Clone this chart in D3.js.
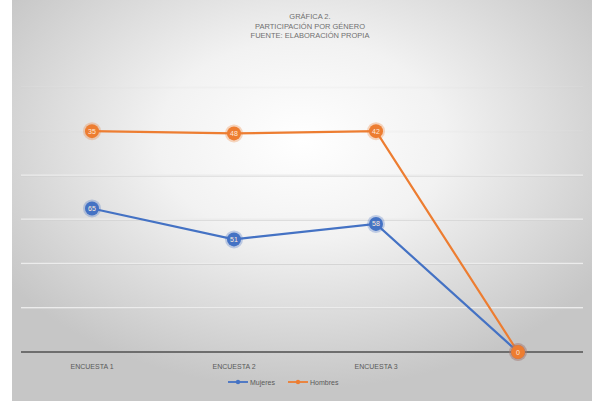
<!DOCTYPE html>
<html><head><meta charset="utf-8">
<script src="https://cdn.jsdelivr.net/npm/d3@7"></script>
<style>body{margin:0;background:#fff}svg{display:block}</style>
</head><body>
<script>
const categories = ["ENCUESTA 1", "ENCUESTA 2", "ENCUESTA 3", ""];
const mujeres = [65, 51, 58, 0];
const hombres = [35, 48, 42, 0];
const yTicks = [0, 20, 40, 60, 80, 100, 120];
const titleLines = ["GRÁFICA 2.", "PARTICIPACIÓN POR GÉNERO", "FUENTE: ELABORACIÓN PROPIA"];
const seriesNames = ["Mujeres", "Hombres"];
const colors = ["#4472c4", "#ed7d31"];

const W = 592, H = 401;
const svg = d3.select("body").append("svg").attr("width", W).attr("height", H);
const defs = svg.append("defs");
const rg = defs.append("radialGradient").attr("id", "bg").attr("cx", "50%").attr("cy", "35%").attr("r", "62%");
rg.append("stop").attr("offset", "0%").attr("stop-color", "#ffffff");
rg.append("stop").attr("offset", "40%").attr("stop-color", "#f2f2f2");
rg.append("stop").attr("offset", "100%").attr("stop-color", "#c6c6c6");
svg.append("rect").attr("x", 12).attr("y", 0).attr("width", W - 12).attr("height", H).attr("fill", "url(#bg)");

const plot = {left: 21, right: 589, top: 87, bottom: 352};
const x = d3.scaleBand().domain(d3.range(categories.length)).range([plot.left, plot.right]).paddingInner(0).paddingOuter(0);
const y = d3.scaleLinear().domain([0, 120]).range([plot.bottom, plot.top]);
const cx = i => x(i) + x.bandwidth() / 2;

// gridlines (upper ones fade into the light background)
const grid = svg.append("g");
grid.selectAll("line.s").data(yTicks.filter(t => t > 0)).join("line")
  .attr("x1", plot.left).attr("x2", plot.right - 6)
  .attr("y1", d => y(d) + 0.8).attr("y2", d => y(d) + 0.8)
  .attr("stroke", "#cfcfcf").attr("stroke-width", 0.8)
  .attr("opacity", d => d >= 100 ? 0.15 : 1);
grid.selectAll("line.h").data(yTicks.filter(t => t > 0)).join("line")
  .attr("x1", plot.left).attr("x2", plot.right - 6)
  .attr("y1", d => y(d) - 0.3).attr("y2", d => y(d) - 0.3)
  .attr("stroke", "#ececec").attr("stroke-width", 1.2)
  .attr("opacity", d => d >= 100 ? 0.15 : 1);

// axis
const xAxis = svg.append("g").attr("transform", `translate(0,${y(0)})`)
  .call(d3.axisBottom(x).tickSize(0).tickFormat(i => categories[i]));
xAxis.select(".domain").attr("stroke", "#6e6e6e").attr("stroke-width", 2.2)
  .attr("d", `M${plot.left},0H${plot.right - 6}`);
xAxis.selectAll("text").attr("dy", 0).attr("y", 17)
  .attr("font-family", "Liberation Sans, sans-serif").attr("font-size", 7).attr("fill", "#595959");

// stacked values
const stacked = [mujeres, mujeres.map((v, i) => v + hombres[i])];
const labels = [mujeres, hombres];
const line = d3.line().x((d, i) => cx(i)).y(d => y(d));

stacked.forEach((vals, s) => {
  svg.append("path").datum(vals).attr("d", line).attr("fill", "none")
    .attr("stroke", colors[s]).attr("stroke-width", 2.2);
});
stacked.forEach((vals, s) => {
  const g = svg.append("g");
  g.selectAll("circle.glow").data(vals).join("circle")
    .attr("cx", (d, i) => cx(i)).attr("cy", d => y(d)).attr("r", 9)
    .attr("fill", colors[s]).attr("opacity", 0.3);
  g.selectAll("circle.m").data(vals).join("circle")
    .attr("cx", (d, i) => cx(i)).attr("cy", d => y(d)).attr("r", 7)
    .attr("fill", colors[s]);
  g.selectAll("text").data(vals).join("text")
    .attr("x", (d, i) => cx(i)).attr("y", d => y(d) + 2.5)
    .attr("text-anchor", "middle").attr("font-family", "Liberation Sans, sans-serif")
    .attr("font-size", 7).attr("fill", "#fde9d9")
    .text((d, i) => (categories[i] === "" && s === 0) ? "" : labels[s][i]);
});

// title
svg.append("g").selectAll("text").data(titleLines).join("text")
  .attr("x", 310).attr("y", (d, i) => 19 + i * 9.5)
  .attr("text-anchor", "middle").attr("font-family", "Liberation Sans, sans-serif")
  .attr("font-size", 7.5).attr("fill", "#707070").text(d => d);

// legend
const lg = svg.append("g").attr("transform", "translate(228,382)");
const lx = [0, 60];
seriesNames.forEach((n, i) => {
  const g = lg.append("g").attr("transform", `translate(${lx[i]},0)`);
  g.append("line").attr("x1", 0).attr("x2", 20).attr("y1", 0).attr("y2", 0).attr("stroke", colors[i]).attr("stroke-width", 1.8);
  g.append("circle").attr("cx", 10).attr("cy", 0).attr("r", 2.2).attr("fill", colors[i]);
  g.append("text").attr("x", 22).attr("y", 2.5).attr("font-family", "Liberation Sans, sans-serif")
    .attr("font-size", 7).attr("fill", "#595959").text(n);
});
</script>
</body></html>
